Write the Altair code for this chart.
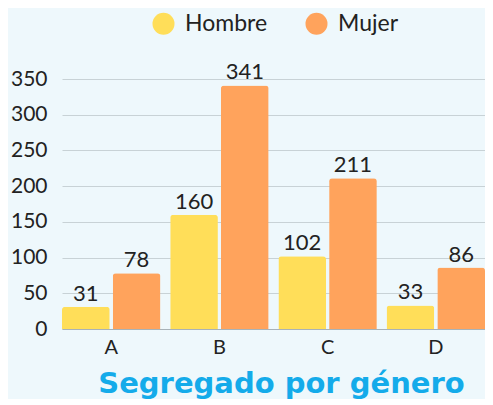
import altair as alt
import pandas as pd

categories = ["A", "B", "C", "D"]
hombre = [31, 160, 102, 33]
mujer = [78, 341, 211, 86]
groups = ["Hombre", "Mujer"]
colors = ["#FFDE59", "#FFA35C"]
y_ticks = [0, 50, 100, 150, 200, 250, 300, 350]

rows = []
for c, h, m in zip(categories, hombre, mujer):
    rows.append({"cat": c, "g": "Hombre", "v": h})
    rows.append({"cat": c, "g": "Mujer", "v": m})
df = pd.DataFrame(rows)

FONT = "Lato"
TFONT = "DejaVu Sans"

x = alt.X("cat:N", title=None,
          scale=alt.Scale(paddingInner=0.09, paddingOuter=0),
          axis=alt.Axis(labelAngle=0, labelFontSize=20, labelColor="#222222",
                        domainColor="#A8B2B8", ticks=False, labelPadding=8,
                        grid=False, labelFont=FONT))
xo = alt.XOffset("g:N", scale=alt.Scale(paddingInner=0.06), sort=groups)
y = alt.Y("v:Q", title=None,
          scale=alt.Scale(domain=[0, 350], nice=False),
          axis=alt.Axis(values=y_ticks, labelFontSize=21, labelColor="#222222",
                        domain=False, ticks=False, labelPadding=15,
                        labelOverlap=False, gridColor="#C8D2D6", labelFont=FONT))
color = alt.Color("g:N", sort=groups,
                  scale=alt.Scale(domain=groups, range=colors),
                  legend=alt.Legend(title=None, orient="none", direction="horizontal",
                                    legendX=90, legendY=-67, symbolType="circle",
                                    symbolSize=484, symbolOpacity=1,
                                    labelFontSize=23, labelFont=FONT,
                                    labelColor="#222222", columnPadding=37,
                                    symbolStrokeWidth=0, labelOffset=10))

bars = alt.Chart(df).mark_bar(cornerRadiusTopLeft=3, cornerRadiusTopRight=3).encode(
    x=x, xOffset=xo, y=y, color=color
)
labels = alt.Chart(df).mark_text(dy=-6, baseline="alphabetic", fontSize=22,
                                 font=FONT, color="#222222").encode(
    x=x, xOffset=xo, y=y, text=alt.Text("v:Q")
)

chart = (bars + labels).properties(
    width=423, height=250,
    background="#EEF8FC",
    padding={"left": 2, "top": 4, "right": 0, "bottom": 0},
    title=alt.TitleParams("Segregado por género", orient="bottom", anchor="middle",
                          fontSize=29, fontWeight="bold", color="#14ABEA",
                          font=TFONT, offset=13, dx=8),
).configure_view(stroke=None)

chart.save("out.html", embed_options={"renderer": "svg", "actions": False})
